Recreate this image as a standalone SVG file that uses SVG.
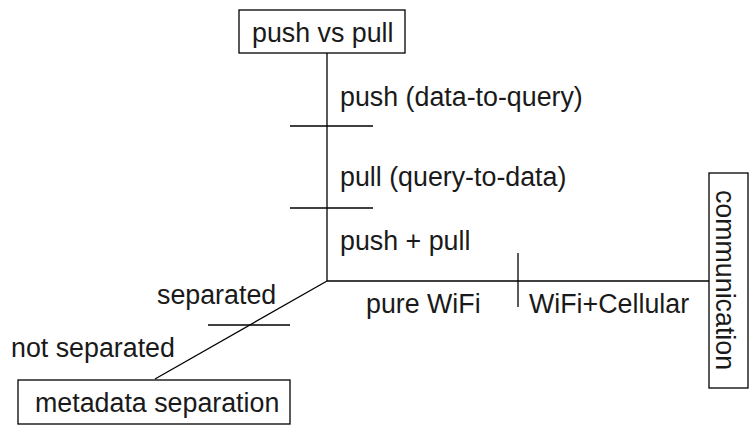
<svg xmlns="http://www.w3.org/2000/svg" width="750" height="426" viewBox="0 0 750 426">
  <style>
    text { font-family: "Liberation Sans", Arial, sans-serif; font-size: 26.8px; fill: #1a1a1a; }
    .box { fill: #fff; stroke: #000; stroke-width: 1.3; }
    .axis { stroke: #000; stroke-width: 1.3; fill: none; }
  </style>
  <rect width="750" height="426" fill="#fff"/>

  <!-- axes and tick marks -->
  <g id="connectors">
    <line class="axis" x1="327" y1="53" x2="327" y2="281"/>
    <line class="axis" x1="327" y1="281" x2="709" y2="281"/>
    <line class="axis" x1="327" y1="281" x2="155" y2="379"/>
    <line class="axis" x1="290" y1="126" x2="373" y2="126"/>
    <line class="axis" x1="290" y1="208" x2="373" y2="208"/>
    <line class="axis" x1="518" y1="253" x2="518" y2="307"/>
    <line class="axis" x1="208" y1="325" x2="290" y2="325"/>
  </g>

  <g id="push-vs-pull">
    <rect class="box" x="239" y="10" width="166" height="43"/>
    <text x="252" y="42">push vs pull</text>
  </g>

  <g id="communication">
    <rect class="box" x="709" y="173" width="39" height="215"/>
    <text transform="translate(716,280) rotate(90)" text-anchor="middle">communication</text>
  </g>

  <g id="metadata-separation">
    <rect class="box" x="18" y="380" width="272" height="44"/>
    <text x="35" y="412">metadata separation</text>
  </g>

  <g id="labels">
    <text x="340" y="106">push (data-to-query)</text>
    <text x="340" y="186">pull (query-to-data)</text>
    <text x="340" y="250">push + pull</text>
    <text x="366" y="313">pure WiFi</text>
    <text x="529" y="313">WiFi+Cellular</text>
    <text x="157" y="304">separated</text>
    <text x="11" y="357">not separated</text>
  </g>
</svg>
